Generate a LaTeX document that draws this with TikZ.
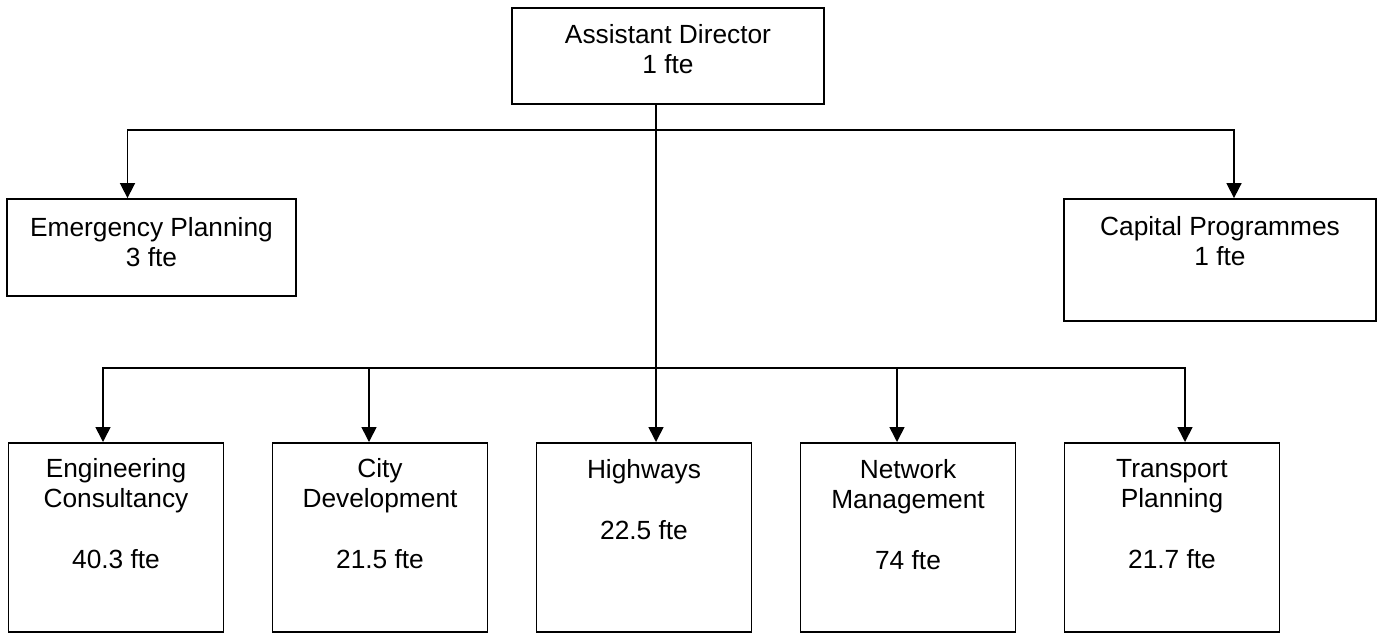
\documentclass[tikz,border=0pt]{standalone}
\usepackage{fontspec}
\setmainfont{Liberation Sans}
\usetikzlibrary{arrows.meta, positioning}

\begin{document}
\begin{tikzpicture}[
        x = 1pt, y = -1pt,
   node distance = 47.2pt,
      box/.style = {draw, line width=1.8pt, inner sep=0pt,
                    node contents={}},
     unit/.style = {box, minimum width=215pt, minimum height=189pt},
      txt/.style = {align=center, inner sep=0pt,
                    font=\fontsize{26.3}{30.5}\selectfont},
     line/.style = {line width=1.6pt},
      arr/.style = {line, -{Triangle[width=15pt,length=15pt]}}
                    ]
\useasboundingbox (0,0) rectangle (1378,633);
  % boxes
  \node (ad) at (668,56) [box, minimum width=312pt, minimum height=96pt];
  \node (ep) at (151.5,247.5) [box, minimum width=289pt, minimum height=97pt];
  \node (cp) at (1220,260) [box, minimum width=312pt, minimum height=122pt];
  \node (eng)  at (116,442) [unit, anchor=north];
  \node (city) [unit, right=of eng];
  \node (hw)   [unit, right=of city];
  \node (nm)   [unit, right=of hw];
  \node (tp)   [unit, right=of nm];
  % texts
  \node [txt, below=17pt of ad.north] {Assistant Director\\1 fte};
  \node [txt, below=19pt of ep.north] {Emergency Planning\\3 fte};
  \node [txt, below=18pt of cp.north] {Capital Programmes\\1 fte};
  \node [txt, below=16pt of eng.north]  {Engineering\\Consultancy\\ \\40.3 fte};
  \node [txt, below=16pt of city.north] {City\\Development\\ \\21.5 fte};
  \node [txt, below=17pt of hw.north]   {Highways\\ \\22.5 fte};
  \node [txt, below=17pt of nm.north]   {Network\\Management\\ \\74 fte};
  \node [txt, below=17pt of tp.north]   {Transport\\Planning\\ \\21.7 fte};
  % connectors
  \coordinate (upj)  at (656,130);
  \coordinate (lowj) at (656,368);
    \draw [line] (upj |- ad.south) -- (lowj);
    \draw [arr] (upj) -| ([xshift=-24pt]ep.north);
    \draw [arr] (upj) -| ([xshift=14pt]cp.north);
    \draw [arr] (lowj) -- (lowj |- hw.north);
  \foreach \n/\s in {eng/-13, city/-11, nm/-11, tp/13}
    \draw [arr] (lowj) -| ([xshift=\s pt]\n.north);
\end{tikzpicture}
\end{document}
